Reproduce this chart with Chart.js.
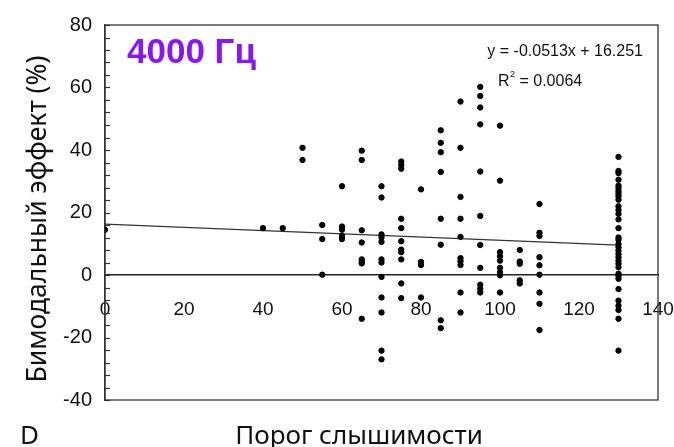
<!DOCTYPE html>
<html>
<head>
<meta charset="utf-8">
<script src="https://cdn.jsdelivr.net/npm/chart.js@4/dist/chart.umd.min.js"></script>
<style>
  html, body { margin: 0; padding: 0; background: #fff; }
  #wrap { width: 674px; height: 447px; position: relative; }
</style>
</head>
<body>
<div id="wrap"><canvas id="scatterChart"></canvas></div>
<script>
// пороги слышимости (ось X) и бимодальный эффект для каждого порога
const thresholds = [0, 40, 45, 50, 55, 60, 65, 70, 75, 80, 85, 90, 95, 100, 105, 110, 130];
const effects = [
    [14.5],
    [15],
    [15],
    [40.7, 36.8],
    [16, 11.5, 0.1],
    [28.4, 15.5, 14.5, 12.5, 11.5],
    [39.8, 36.8, 14.3, 10.4, 5, 4.3, 3.7, -14],
    [28.4, 24.8, 13, 12, 10.6, 5, 4, -0.6, -7.2, -12, -24.2, -27],
    [36.3, 35.2, 34, 18, 15, 10.8, 8.1, 7.3, 5, -2.7, -7.4],
    [27.4, 4.2, 3.2, -7.2],
    [46.3, 42.3, 39.3, 33, 18, 9.7, -14.5, -17],
    [55.5, 40.7, 25, 18, 12.2, 5.4, 4.4, 3.2, -5.6, -12],
    [60.2, 57.3, 53.6, 48.2, 33.1, 18.9, 9.6, 2.3, -3.1, -4.4, -5.6],
    [47.8, 30.2, 7.3, 6, 4.6, 2.3, 0.9, -0.1, -5.6],
    [8, 4.3, 3.6, -1.7, -2.7],
    [22.7, 13.5, 12.5, 5.7, 3.1, 0.1, -5.6, -9.2, -17.6],
    [37.8, 33.3, 32.6, 30.5, 28.6, 27.8, 26.8, 26, 25.2, 24.1, 22, 20.8, 19.6, 17.8, 15, 12,
     11.3, 9.9, 8.9, 7.8, 6.7, 5.7, 4.6, 3.6, 2.5, 0.4, -0.3, -1.2, -4.5, -8.2, -9.8, -11.2, -14, -24.2]
];

// линия тренда (концы)
const trendX = [0, 130];
const trendY = [16.25, 9.58];

const xTicks = [0, 20, 40, 60, 80, 100, 120, 140];
const yLabels = [-40, -20, 0, 20, 40, 60, 80];

const panelTitle = '4000 Гц';
const equationText = 'y = -0.0513x + 16.251';
const r2Text = '0.0064';
const xTitle = 'Порог слышимости';
const yTitle = 'Бимодальный эффект (%)';

// собираем точки
const points = [];
thresholds.forEach((t, i) => {
    effects[i].forEach(v => points.push({ x: t, y: v }));
});
const trendPoints = trendX.map((x, i) => ({ x: x, y: trendY[i] }));

// рамка, внутренние засечки и подписи
const decorPlugin = {
    id: 'decor',
    beforeDatasetsDraw(chart) {
        const { ctx, chartArea: a, scales } = chart;
        ctx.save();
        ctx.strokeStyle = '#333';
        ctx.lineWidth = 1.3;
        ctx.strokeRect(a.left, a.top, a.right - a.left, a.bottom - a.top);
        // засечки оси Y внутрь
        ctx.lineWidth = 1.2;
        scales.y.ticks.forEach(t => {
            const py = Math.round(scales.y.getPixelForValue(t.value)) + 0.5;
            ctx.beginPath();
            ctx.moveTo(a.left, py);
            ctx.lineTo(a.left + 5, py);
            ctx.stroke();
        });
        ctx.restore();
    },
    afterDraw(chart) {
        const { ctx } = chart;
        ctx.save();
        ctx.fillStyle = '#8a17f0';
        ctx.font = 'bold 35px "Liberation Sans", Arial, sans-serif';
        ctx.textBaseline = 'alphabetic';
        ctx.textAlign = 'left';
        ctx.fillText(panelTitle, 127, 63);

        ctx.fillStyle = '#111';
        ctx.font = '16px "Liberation Sans", Arial, sans-serif';
        ctx.textAlign = 'right';
        ctx.fillText(equationText, 643, 56);
        ctx.textAlign = 'left';
        ctx.fillText('R', 498, 86);
        ctx.font = '9px "Liberation Sans", Arial, sans-serif';
        ctx.fillText('2', 510, 77);
        ctx.font = '16px "Liberation Sans", Arial, sans-serif';
        ctx.fillText(' = ' + r2Text, 515, 86);

        ctx.font = '26px "Noto Sans", sans-serif';
        ctx.textAlign = 'center';
        ctx.fillText(xTitle, 359, 444);
        ctx.textAlign = 'left';
        ctx.fillText('D', 20, 444);

        // подпись оси Y
        ctx.translate(38, 219);
        ctx.rotate(-Math.PI / 2);
        ctx.textAlign = 'center';
        ctx.textBaseline = 'middle';
        ctx.font = '26.5px "Noto Sans", sans-serif';
        ctx.fillText(yTitle, 0, 0);
        ctx.restore();
    }
};

const ctx = document.getElementById('scatterChart').getContext('2d');

const chart = new Chart(ctx, {
    type: 'scatter',
    data: {
        datasets: [{
            label: 'точки',
            data: points,
            backgroundColor: '#000',
            borderColor: '#000',
            pointRadius: 2.7,
            pointHoverRadius: 2.7,
            pointStyle: 'circle'
        }, {
            type: 'line',
            label: 'тренд',
            data: trendPoints,
            borderColor: '#333',
            borderWidth: 1.3,
            pointRadius: 0,
            fill: false
        }]
    },
    options: {
        responsive: true,
        maintainAspectRatio: false,
        animation: false,
        layout: { padding: { left: 0, top: 20, right: 16, bottom: 47 } },
        plugins: {
            legend: { display: false },
            tooltip: { enabled: false }
        },
        scales: {
            x: {
                type: 'linear',
                min: 0,
                max: 140,
                position: { y: 0 },
                afterBuildTicks(scale) {
                    scale.ticks = xTicks.map(v => ({ value: v }));
                },
                afterFit(scale) {
                    scale.paddingLeft = 0;
                    scale.paddingRight = 0;
                },
                ticks: {
                    color: '#111',
                    padding: 23,
                    maxRotation: 0,
                    autoSkip: false,
                    font: { family: '"Liberation Sans", Arial, sans-serif', size: 19 }
                },
                grid: { drawOnChartArea: false, drawTicks: false },
                border: { display: true, color: '#222', width: 1.5 }
            },
            y: {
                min: -40,
                max: 80,
                afterBuildTicks(scale) {
                    const t = [];
                    for (let v = -40; v <= 80; v += 4) t.push({ value: v });
                    scale.ticks = t;
                },
                afterFit(scale) {
                    scale.width = 105;
                },
                ticks: {
                    color: '#111',
                    padding: 13,
                    autoSkip: false,
                    callback: v => (yLabels.includes(v) ? v : ''),
                    font: { family: '"Liberation Sans", Arial, sans-serif', size: 20 }
                },
                grid: { drawOnChartArea: false, drawTicks: false },
                border: { display: true, color: '#333', width: 1.3 }
            }
        }
    },
    plugins: [decorPlugin]
});
</script>
</body>
</html>
